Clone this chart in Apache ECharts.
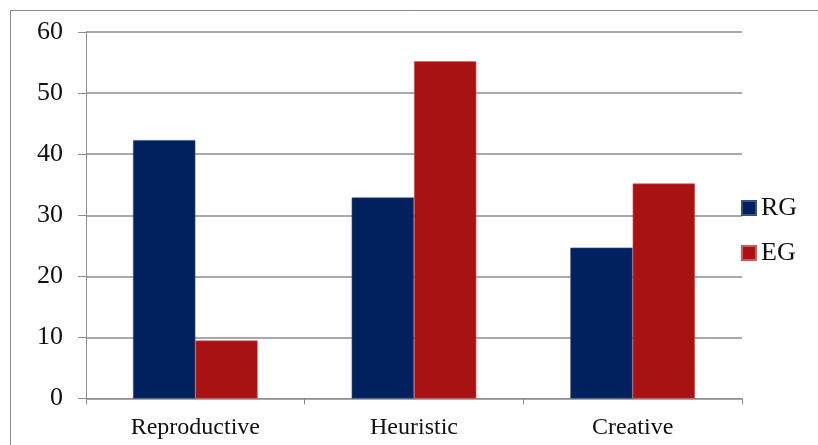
<!DOCTYPE html>
<html>
<head>
<meta charset="utf-8">
<script src="https://cdn.jsdelivr.net/npm/echarts@6/dist/echarts.min.js"></script>
<style>
  html, body { margin: 0; padding: 0; background: #fff; }
  #chart { width: 818px; height: 445px; }
</style>
</head>
<body>
<div id="chart"></div>
<script>
// Task categories and group scores
const categories = ['Reproductive', 'Heuristic', 'Creative'];
const rgValues = [42.3, 32.9, 24.7];
const egValues = [9.5, 55.2, 35.2];
const yTicks = { min: 0, max: 60, interval: 10 };

const font = 'Liberation Serif, Times New Roman, serif';
const gridGray = '#8c8c8c';

const chart = echarts.init(document.getElementById('chart'), null, { renderer: 'canvas' });
chart.setOption({
  animation: false,
  backgroundColor: '#ffffff',
  graphic: [{
    type: 'rect',
    shape: { x: 10.5, y: 10.5, width: 830, height: 460 },
    style: { fill: 'none', stroke: '#8a8a8a', lineWidth: 1 },
    silent: true
  }],
  grid: { left: 86, right: 76, top: 32, bottom: 46.5, containLabel: false },
  legend: {
    orient: 'vertical',
    left: 741,
    top: 195,
    padding: 0,
    itemWidth: 14,
    itemHeight: 14,
    itemGap: 19,
    icon: 'rect',
    textStyle: { fontFamily: font, fontSize: 26, lineHeight: 26, color: '#111' },
    data: ['RG', 'EG']
  },
  xAxis: {
    type: 'category',
    data: categories,
    axisLine: { lineStyle: { color: gridGray, width: 1 } },
    axisTick: { show: true, length: 6, lineStyle: { color: gridGray } },
    axisLabel: { fontFamily: font, fontSize: 24, color: '#111', margin: 17 }
  },
  yAxis: {
    type: 'value',
    min: yTicks.min,
    max: yTicks.max,
    interval: yTicks.interval,
    axisLine: { show: true, lineStyle: { color: gridGray, width: 1 } },
    axisTick: { show: true, length: 8, lineStyle: { color: gridGray } },
    axisLabel: { fontFamily: font, fontSize: 26, color: '#111', margin: 23 },
    splitLine: { show: true, lineStyle: { color: gridGray, width: 1.5 } }
  },
  series: [
    {
      name: 'RG',
      type: 'bar',
      data: rgValues,
      barGap: '0%',
      barCategoryGap: '43%',
      itemStyle: { color: '#00205e', borderColor: '#3a4f86', borderWidth: 0.6 }
    },
    {
      name: 'EG',
      type: 'bar',
      data: egValues,
      barGap: '0%',
      barCategoryGap: '43%',
      itemStyle: { color: '#a91213', borderColor: '#d05a5a', borderWidth: 0.6 }
    }
  ]
});
</script>
</body>
</html>
